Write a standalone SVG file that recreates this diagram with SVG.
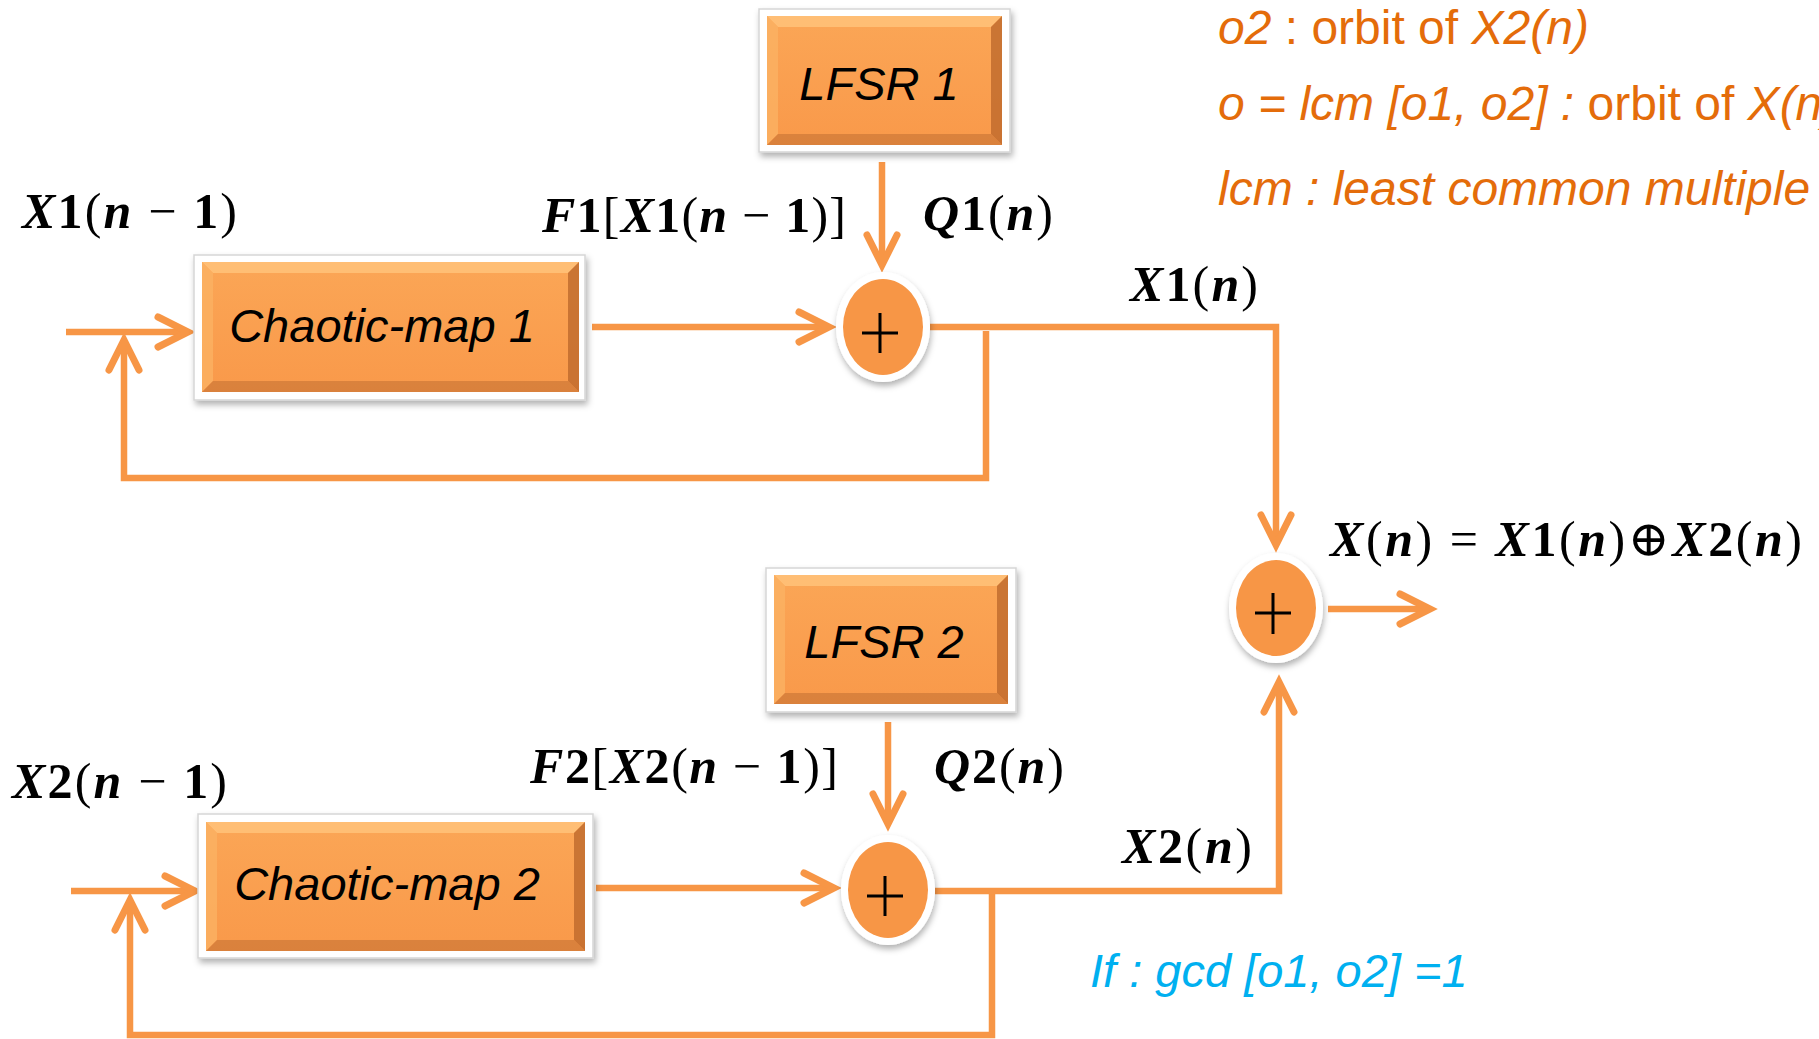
<svg xmlns="http://www.w3.org/2000/svg" width="1819" height="1039" viewBox="0 0 1819 1039">
<defs>
<style>
.frame{fill:#fff;stroke:#d6d6d6;stroke-width:1.5;filter:url(#sh)}
.face{fill:url(#og)}
.bt{fill:#ffc27a;opacity:.85}
.bl{fill:#fbb263;opacity:.8}
.br{fill:#b9652a;opacity:.75}
.bb{fill:#cf7a38;opacity:.75}
.lbl{font-family:"Liberation Sans",Arial,sans-serif;font-style:italic;font-size:47px;fill:#000;text-anchor:middle}
.wire{fill:none;stroke:#F79646;stroke-width:6.5;stroke-linejoin:miter;stroke-linecap:butt}
.arr{marker-end:url(#chev)}
.ring{fill:#fff;filter:url(#sh2)}
.dot{fill:#F79646}
.plus{stroke:#000;stroke-width:3;fill:none}
.m{font-family:"Liberation Serif","DejaVu Serif",serif;font-size:50px;fill:#000}
.v{font-style:italic;font-weight:bold}
.d{font-weight:bold}
.p{font-weight:normal}
.note{font-family:"Liberation Sans",Arial,sans-serif;font-size:48px;fill:#E46C0A}
.it{font-style:italic}
.cy{font-family:"Liberation Sans",Arial,sans-serif;font-size:47px;fill:#00B0F0;font-style:italic}
</style>
<linearGradient id="og" x1="0" y1="0" x2="0" y2="1">
<stop offset="0" stop-color="#fba656"/>
<stop offset="1" stop-color="#f9994a"/>
</linearGradient>
<filter id="sh" x="-10%" y="-10%" width="125%" height="130%">
<feDropShadow dx="2" dy="4" stdDeviation="3" flood-color="#000" flood-opacity="0.3"/>
</filter>
<filter id="sh2" x="-20%" y="-20%" width="150%" height="150%">
<feDropShadow dx="1" dy="4" stdDeviation="3" flood-color="#000" flood-opacity="0.3"/>
</filter>
<marker id="chev" markerUnits="userSpaceOnUse" markerWidth="50" markerHeight="50" viewBox="-40 -25 50 50" refX="0" refY="0" orient="auto" overflow="visible">
<path d="M-30,-15 L0,0 L-30,15" fill="none" stroke="#F79646" stroke-width="7" stroke-linecap="round" stroke-linejoin="miter"/>
</marker>
</defs>
<rect width="1819" height="1039" fill="#fff"/>

<g id="connectors">
<path class="wire arr" d="M66,332 H188"/>
<path class="wire arr" d="M986,331 V478 H124 V340"/>
<path class="wire arr" d="M592,327 H829"/>
<path class="wire arr" d="M882,162 V265"/>
<path class="wire arr" d="M930,327 H1276 V545"/>
<path class="wire arr" d="M71,891 H195"/>
<path class="wire arr" d="M992,893 V1035 H130 V900"/>
<path class="wire arr" d="M596,888 H834"/>
<path class="wire arr" d="M888,722 V824"/>
<path class="wire arr" d="M935,891 H1279 V682"/>
<path class="wire arr" d="M1328,609 H1430"/>
</g>

<g id="chaotic1">
<rect class="frame" x="194" y="255" width="391" height="145"/>
<rect class="face" x="202" y="262" width="377" height="130"/>
<polygon class="bt" points="202,262 579,262 568,273 213,273"/>
<polygon class="bl" points="202,262 213,273 213,381 202,392"/>
<polygon class="br" points="579,262 579,392 568,381 568,273"/>
<polygon class="bb" points="202,392 213,381 568,381 579,392"/>
<text class="lbl" x="382" y="342">Chaotic-map 1</text>
</g>

<g id="lfsr1">
<rect class="frame" x="759" y="9" width="251" height="143"/>
<rect class="face" x="767" y="16" width="235" height="129"/>
<polygon class="bt" points="767,16 1002,16 991,27 778,27"/>
<polygon class="bl" points="767,16 778,27 778,134 767,145"/>
<polygon class="br" points="1002,16 1002,145 991,134 991,27"/>
<polygon class="bb" points="767,145 778,134 991,134 1002,145"/>
<text class="lbl" x="879" y="100">LFSR 1</text>
</g>

<g id="lfsr2">
<rect class="frame" x="766" y="568" width="250" height="144"/>
<rect class="face" x="774" y="575" width="234" height="129"/>
<polygon class="bt" points="774,575 1008,575 997,586 785,586"/>
<polygon class="bl" points="774,575 785,586 785,693 774,704"/>
<polygon class="br" points="1008,575 1008,704 997,693 997,586"/>
<polygon class="bb" points="774,704 785,693 997,693 1008,704"/>
<text class="lbl" x="884" y="658">LFSR 2</text>
</g>

<g id="chaotic2">
<rect class="frame" x="198" y="814" width="395" height="144"/>
<rect class="face" x="206" y="822" width="379" height="129"/>
<polygon class="bt" points="206,822 585,822 574,833 217,833"/>
<polygon class="bl" points="206,822 217,833 217,940 206,951"/>
<polygon class="br" points="585,822 585,951 574,940 574,833"/>
<polygon class="bb" points="206,951 217,940 574,940 585,951"/>
<text class="lbl" x="387" y="900">Chaotic-map 2</text>
</g>

<g id="sum1">
<ellipse class="ring" cx="883" cy="327" rx="47" ry="55"/>
<ellipse class="dot" cx="883" cy="327" rx="40" ry="48"/>
<path class="plus" d="M862,333 H898 M880,313 V353"/>
</g>

<g id="sum2">
<ellipse class="ring" cx="888" cy="890" rx="47" ry="55"/>
<ellipse class="dot" cx="888" cy="890" rx="40" ry="48"/>
<path class="plus" d="M867,896 H903 M885,876 V916"/>
</g>

<g id="sum3">
<ellipse class="ring" cx="1276" cy="608" rx="47" ry="55"/>
<ellipse class="dot" cx="1276" cy="608" rx="40" ry="48"/>
<path class="plus" d="M1255,613 H1291 M1273,593 V634"/>
</g>

<g id="labels">
<text class="m" x="22" y="228" textLength="215" lengthAdjust="spacing"><tspan class="v">X</tspan><tspan class="d">1</tspan><tspan class="p">(</tspan><tspan class="v">n</tspan><tspan class="p"> − </tspan><tspan class="d">1</tspan><tspan class="p">)</tspan></text>
<text class="m" x="542" y="232" textLength="304" lengthAdjust="spacing"><tspan class="v">F</tspan><tspan class="d">1</tspan><tspan class="p">[</tspan><tspan class="v">X</tspan><tspan class="d">1</tspan><tspan class="p">(</tspan><tspan class="v">n</tspan><tspan class="p"> − </tspan><tspan class="d">1</tspan><tspan class="p">)]</tspan></text>
<text class="m" x="923" y="230" textLength="130" lengthAdjust="spacing"><tspan class="v">Q</tspan><tspan class="d">1</tspan><tspan class="p">(</tspan><tspan class="v">n</tspan><tspan class="p">)</tspan></text>
<text class="m" x="1130" y="301" textLength="128" lengthAdjust="spacing"><tspan class="v">X</tspan><tspan class="d">1</tspan><tspan class="p">(</tspan><tspan class="v">n</tspan><tspan class="p">)</tspan></text>
<text class="m" x="1330" y="556" textLength="472" lengthAdjust="spacing"><tspan class="v">X</tspan><tspan class="p">(</tspan><tspan class="v">n</tspan><tspan class="p">) = </tspan><tspan class="v">X</tspan><tspan class="d">1</tspan><tspan class="p">(</tspan><tspan class="v">n</tspan><tspan class="p">)⊕</tspan><tspan class="v">X</tspan><tspan class="d">2</tspan><tspan class="p">(</tspan><tspan class="v">n</tspan><tspan class="p">)</tspan></text>
<text class="m" x="12" y="798" textLength="215" lengthAdjust="spacing"><tspan class="v">X</tspan><tspan class="d">2</tspan><tspan class="p">(</tspan><tspan class="v">n</tspan><tspan class="p"> − </tspan><tspan class="d">1</tspan><tspan class="p">)</tspan></text>
<text class="m" x="530" y="783" textLength="308" lengthAdjust="spacing"><tspan class="v">F</tspan><tspan class="d">2</tspan><tspan class="p">[</tspan><tspan class="v">X</tspan><tspan class="d">2</tspan><tspan class="p">(</tspan><tspan class="v">n</tspan><tspan class="p"> − </tspan><tspan class="d">1</tspan><tspan class="p">)]</tspan></text>
<text class="m" x="934" y="783" textLength="130" lengthAdjust="spacing"><tspan class="v">Q</tspan><tspan class="d">2</tspan><tspan class="p">(</tspan><tspan class="v">n</tspan><tspan class="p">)</tspan></text>
<text class="m" x="1122" y="863" textLength="130" lengthAdjust="spacing"><tspan class="v">X</tspan><tspan class="d">2</tspan><tspan class="p">(</tspan><tspan class="v">n</tspan><tspan class="p">)</tspan></text>
</g>

<g id="notes">
<text class="note" x="1218" y="44"><tspan class="it">o2</tspan> : orbit of <tspan class="it">X2(n)</tspan></text>
<text class="note" x="1218" y="120"><tspan class="it">o = lcm [o1, o2] :</tspan> orbit of <tspan class="it">X(n)</tspan></text>
<text class="note it" x="1218" y="205">lcm : least common multiple</text>
<text class="cy" x="1090" y="987">If : gcd [o1, o2] =1</text>
</g>
</svg>
